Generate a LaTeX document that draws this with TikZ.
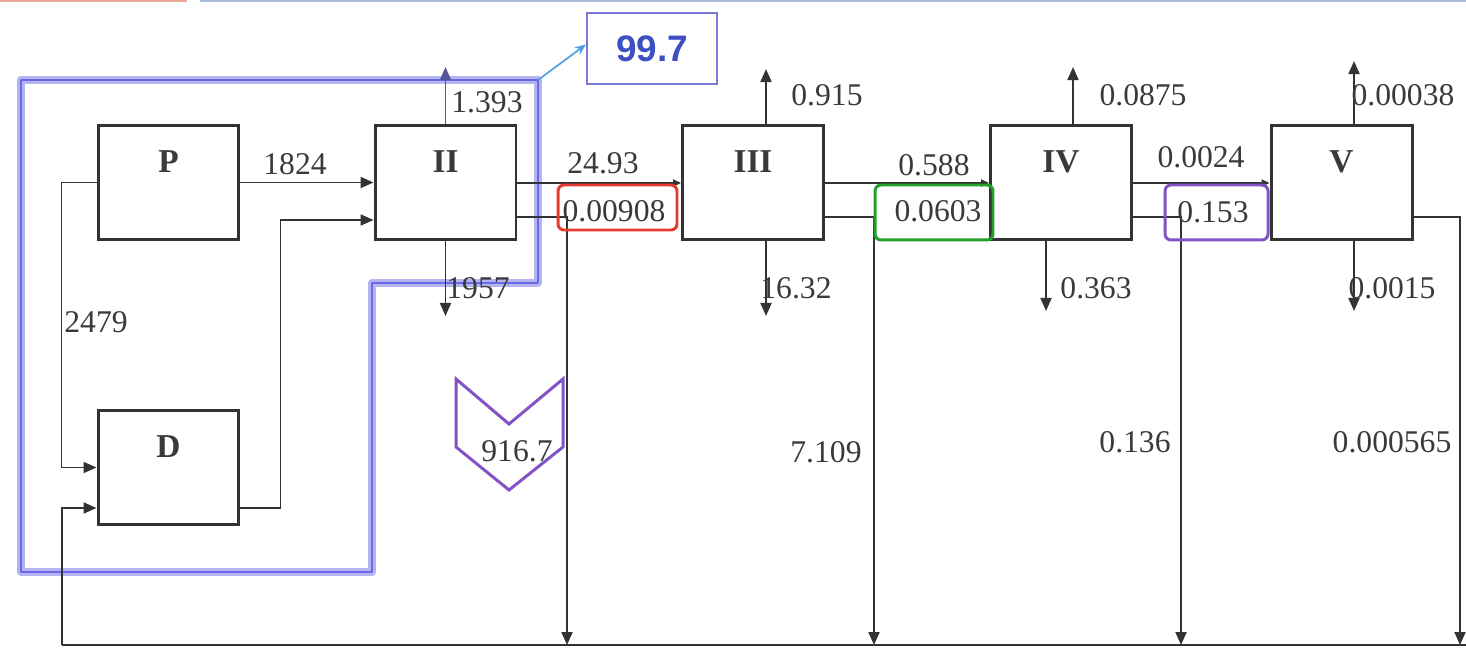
\documentclass[tikz,border=0pt]{standalone}
\usepackage{fontspec}
\setmainfont{Liberation Serif}
\newfontfamily\sansfam{Liberation Sans}
\usetikzlibrary{arrows.meta}
\definecolor{ln}{HTML}{333333}
\definecolor{txt}{HTML}{3A3A3A}
\definecolor{hlred}{HTML}{E53A2E}
\definecolor{hlgreen}{HTML}{22A02A}
\definecolor{hlpurple}{HTML}{8352C4}
\definecolor{band}{HTML}{B4B4F2}
\definecolor{bandcore}{HTML}{6A6AE6}
\definecolor{boxblue}{HTML}{7A78D8}
\definecolor{numblue}{HTML}{3C50C4}
\definecolor{topred}{HTML}{E8A898}
\definecolor{topblue}{HTML}{A8BCD8}
\begin{document}
\begin{tikzpicture}[x=0.02cm,y=-0.02cm,
  font=\fontsize{18}{20}\selectfont,
  blk/.style={draw=ln, line width=1.7pt, fill=white, minimum width=2.82cm, minimum height=2.28cm, inner sep=0pt},
  blab/.style={font=\bfseries\fontsize{19}{20}\selectfont, text=txt, inner sep=0pt, anchor=center, yshift=-0.76cm},
  conn/.style={draw=ln, line width=1.1pt},
  arr/.style={conn, -{Triangle[length=0.26cm,width=0.22cm]}},
  sarr/.style={conn, -{Triangle[length=0.16cm,width=0.14cm]}},
  lbl/.style={text=txt, inner sep=0pt},
  hlbox/.style={rounded corners=0.12cm, line width=1.7pt, inner sep=0pt, fill=none}
]
\useasboundingbox (0,0) rectangle (1466,648);
% header remnants
\draw[topred, line width=1.2pt] (0,1) -- (187,1);
\draw[topblue, line width=1.2pt] (200,1) -- (1466,1);

% highlight band (behind the flow lines)
\coordinate (hlc) at (538,80);
\draw[band, line width=4.5pt, line join=round] (21,80) -- (hlc) -- (538,283) -- (372,283) -- (372,572) -- (21,572) -- cycle;
\draw[bandcore, line width=0.8pt, line join=round] (21,80) -- (hlc) -- (538,283) -- (372,283) -- (372,572) -- (21,572) -- cycle;

% blocks
\node[blk, label={[blab]north:P}]   (P)   at (168.5,182.5) {};
\node[blk, label={[blab]north:II}]  (II)  at (445.5,182.5) {};
\node[blk, label={[blab]north:III}] (III) at (753,182.5) {};
\node[blk, label={[blab]north:IV}]  (IV)  at (1061,182.5) {};
\node[blk, label={[blab]north:V}]   (V)   at (1341.5,182.5) {};
\node[blk, label={[blab]north:D}]   (D)   at (168.5,467.5) {};

% bottom collector
\coordinate (bl) at (62,645);
\coordinate (br) at (1466,645);
\coordinate (d2) at (567,645);
\coordinate (d3) at (874,645);
\coordinate (d4) at (1181,645);
\coordinate (d5) at (1460,645);
\draw[conn] (bl) -- (br);

% P and D loops
\draw[arr] (P.west) -- ++(-35,0) |- (D.west);
\draw[arr] (P.east) -- (II.west);
\draw[arr] ([yshift=-0.81cm]D.east) -- ++(40,0) |- ([yshift=-0.75cm]II.west);
\draw[arr] (bl) |- ([yshift=-0.81cm]D.west);

% main chain
\draw[sarr] ([yshift=-0.01cm]II.east) -- ([yshift=-0.01cm]III.west);
\draw[sarr] ([yshift=-0.01cm]III.east) -- ([yshift=-0.01cm]IV.west);
\draw[sarr] ([yshift=-0.01cm]IV.east) -- ([yshift=-0.01cm]V.west);
\draw[arr] ([yshift=-0.69cm]II.east) -| (d2);
\draw[arr] ([yshift=-0.69cm]III.east) -| (d3);
\draw[arr] ([yshift=-0.69cm]IV.east) -| (d4);
\draw[arr] ([yshift=-0.69cm]V.east) -| (d5);

% up / down arrows
\draw[arr, draw=bandcore!60!ln] (II.north) -- ++(0,-57);
\draw[arr] ([xshift=0.26cm]III.north) -- ++(0,-55);
\draw[arr] ([xshift=0.24cm]IV.north) -- ++(0,-57);
\draw[arr] ([xshift=0.25cm]V.north) -- ++(0,-63);
\draw[arr] (II.south) -- ++(0,75);
\draw[arr] ([xshift=0.26cm]III.south) -- ++(0,75);
\draw[arr] ([xshift=-0.3cm]IV.south) -- ++(0,70);
\draw[arr] ([xshift=0.25cm]V.south) -- ++(0,70);

% total box
\node[draw=boxblue, line width=1.2pt, minimum width=2.6cm, minimum height=1.42cm, inner sep=0pt,
      text=numblue, font=\sansfam\bfseries\fontsize{21}{22}\selectfont] (tot) at (652,48.5) {99.7};
\draw[boxblue!70!cyan, line width=1pt, -{Stealth[length=0.22cm,width=0.18cm]}] (hlc) -- ([yshift=0.08cm]tot.west);

% chevron
\draw[hlpurple, line width=1.7pt, line join=miter] (456,379) -- (509,424) -- (563,379) -- (563,447) -- (509,490) -- (456,447) -- cycle;

% highlight boxes
\node[hlbox, draw=hlred, minimum width=2.38cm, minimum height=0.9cm] (rb) at (617.5,207.5) {};
\node[hlbox, draw=hlgreen, minimum width=2.36cm, minimum height=1.1cm] (gb) at (934,212.5) {};
\node[hlbox, draw=hlpurple, minimum width=2.06cm, minimum height=1.1cm] (pb) at (1216.5,212.5) {};

% labels
\node[lbl] (l1824) at (295,164) {1824};
\node[lbl] (l2479) at (96,322) {2479};
\node[lbl] (l1393) at (487,102) {1.393};
\node[lbl] (l1957) at (478,288) {1957};
\node[lbl] (l2493) at (603,163) {24.93};
\node[lbl] (l908) at (614,211) {0.00908};
\node[lbl] (l915) at (827,95) {0.915};
\node[lbl] (l1632) at (796,288) {16.32};
\node[lbl] (l588) at (934,165) {0.588};
\node[lbl] (l603) at (938,211) {0.0603};
\node[lbl] (l875) at (1143,95) {0.0875};
\node[lbl] (l363) at (1096,288) {0.363};
\node[lbl] (l0024) at (1201,157) {0.0024};
\node[lbl] (l153) at (1213,212) {0.153};
\node[lbl] (l038) at (1403,95) {0.00038};
\node[lbl] (l0015) at (1392,288) {0.0015};
\node[lbl] (l9167) at (517,451) {916.7};
\node[lbl] (l7109) at (826,452) {7.109};
\node[lbl] (l136) at (1135,442) {0.136};
\node[lbl] (l565) at (1392,442) {0.000565};
\end{tikzpicture}
\end{document}
